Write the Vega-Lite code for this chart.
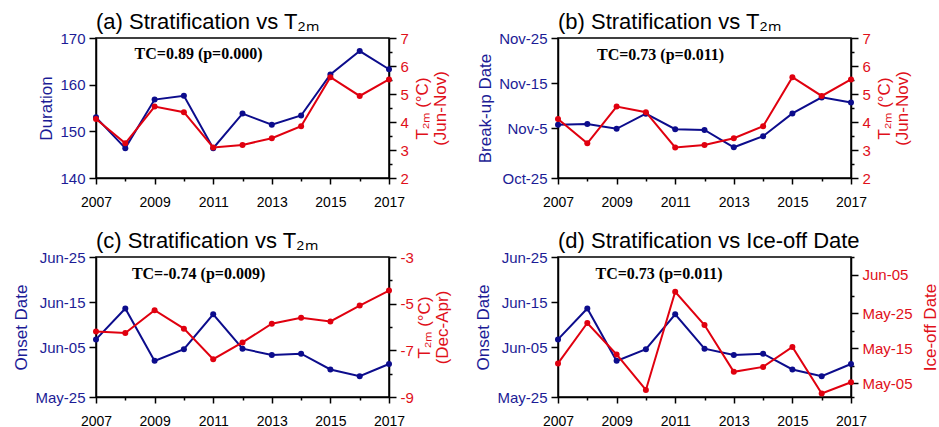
{
  "$schema": "https://vega.github.io/schema/vega-lite/v6.json",
  "background": "white",
  "padding": {"left": 12, "top": 10, "right": 5, "bottom": 5},
  "datasets": {
    "d": [
      {"year": 2007, "duration": 153.0, "t2m_jn": 4.11, "breakup": 309.8, "onset": 157.75, "t2m_da": -6.19, "iceoff": 130.6},
      {"year": 2008, "duration": 146.4, "t2m_jn": 3.24, "breakup": 309.97, "onset": 164.6, "t2m_da": -6.26, "iceoff": 142.15},
      {"year": 2009, "duration": 156.8, "t2m_jn": 4.55, "breakup": 308.9, "onset": 153.0, "t2m_da": -5.28, "iceoff": 133.15},
      {"year": 2010, "duration": 157.6, "t2m_jn": 4.35, "breakup": 312.25, "onset": 155.6, "t2m_da": -6.07, "iceoff": 123.0},
      {"year": 2011, "duration": 146.4, "t2m_jn": 3.09, "breakup": 308.8, "onset": 163.3, "t2m_da": -7.38, "iceoff": 151.05},
      {"year": 2012, "duration": 153.8, "t2m_jn": 3.18, "breakup": 308.65, "onset": 155.7, "t2m_da": -6.66, "iceoff": 141.57},
      {"year": 2013, "duration": 151.4, "t2m_jn": 3.42, "breakup": 304.8, "onset": 154.3, "t2m_da": -5.86, "iceoff": 128.2},
      {"year": 2014, "duration": 153.4, "t2m_jn": 3.85, "breakup": 307.25, "onset": 154.6, "t2m_da": -5.6, "iceoff": 129.6},
      {"year": 2015, "duration": 162.2, "t2m_jn": 5.6, "breakup": 312.3, "onset": 151.1, "t2m_da": -5.76, "iceoff": 135.3},
      {"year": 2016, "duration": 167.2, "t2m_jn": 4.93, "breakup": 315.85, "onset": 149.6, "t2m_da": -5.08, "iceoff": 122.0},
      {"year": 2017, "duration": 163.3, "t2m_jn": 5.52, "breakup": 314.7, "onset": 152.3, "t2m_da": -4.44, "iceoff": 125.2}
    ]
  },
  "columns": 2,
  "spacing": {"row": 79, "column": 169},
  "bounds": "flush",
  "concat": [
    {
      "width": 293, "height": 140,
      "title": {"text": "(a) Stratification vs T₂ₘ"},
      "data": {"name": "d"},
      "encoding": {"x": {"field": "year", "type": "quantitative", "scale": {"domain": [2007, 2017], "nice": false},
        "axis": {"values": [2007,2008,2009,2010,2011,2012,2013,2014,2015,2016,2017], "labelExpr": "datum.value % 2 === 1 ? '' + datum.value : ''", "tickSize": {"condition": {"test": "datum.value % 2 === 1", "value": 6}, "value": 3}, "title": null}}},
      "layer": [
        {"layer": [
          {"mark": {"type": "line", "color": "#0c0c8c", "strokeWidth": 2, "point": {"filled": true, "size": 36, "color": "#0c0c8c"}},
           "encoding": {"y": {"field": "duration", "type": "quantitative", "scale": {"domain": [140, 170], "nice": false, "zero": false},
             "axis": {"orient": "left", "values": [140,145,150,155,160,165,170], "labelExpr": "datum.value % 10 === 0 ? '' + datum.value : ''", "tickSize": {"condition": {"test": "datum.value % 10 === 0", "value": 7}, "value": 3}, "title": "Duration", "labelColor": "#1c1c96", "titleColor": "#1c1c96"}}}},
          {"data": {"values": [{"label": "TC=0.89 (p=0.000)", "tx": 2010.5, "ty": 166.6}]},
           "mark": {"type": "text", "font": "Liberation Serif", "fontWeight": "bold", "fontSize": 16, "color": "black"},
           "encoding": {"x": {"field": "tx", "type": "quantitative"}, "y": {"field": "ty", "type": "quantitative"}, "text": {"field": "label", "type": "nominal"}}}
        ]},
        {"mark": {"type": "line", "color": "#e0000f", "strokeWidth": 2, "point": {"filled": true, "size": 36, "color": "#e0000f"}},
         "encoding": {"y": {"field": "t2m_jn", "type": "quantitative", "scale": {"domain": [2, 7], "nice": false, "zero": false},
           "axis": {"orient": "right", "values": [2,2.5,3,3.5,4,4.5,5,5.5,6,6.5,7], "labelExpr": "datum.value % 1 === 0 ? '' + datum.value : ''", "tickSize": {"condition": {"test": "datum.value % 1 === 0", "value": 7}, "value": 3}, "title": ["T₂ₘ (°C)", "(Jun-Nov)"], "titleAngle": 270, "titleBaseline": "top", "titlePadding": -12, "labelColor": "#e0101a", "titleColor": "#e0101a"}}}}
      ],
      "resolve": {"scale": {"y": "independent"}}
    },
    {
      "width": 293, "height": 140,
      "title": {"text": "(b) Stratification vs T₂ₘ"},
      "data": {"name": "d"},
      "encoding": {"x": {"field": "year", "type": "quantitative", "scale": {"domain": [2007, 2017], "nice": false},
        "axis": {"values": [2007,2008,2009,2010,2011,2012,2013,2014,2015,2016,2017], "labelExpr": "datum.value % 2 === 1 ? '' + datum.value : ''", "tickSize": {"condition": {"test": "datum.value % 2 === 1", "value": 6}, "value": 3}, "title": null}}},
      "layer": [
        {"layer": [
          {"mark": {"type": "line", "color": "#0c0c8c", "strokeWidth": 2, "point": {"filled": true, "size": 36, "color": "#0c0c8c"}},
           "encoding": {"y": {"field": "breakup", "type": "quantitative", "scale": {"domain": [298, 329], "nice": false, "zero": false},
             "axis": {"orient": "left", "values": [298,303,309,314,319,324,329], "labelExpr": "(datum.value === 298 || datum.value === 309 || datum.value === 319 || datum.value === 329) ? timeFormat(datetime(2001, 0, datum.value), '%b-%-d') : ''", "tickSize": {"condition": {"test": "datum.value === 298 || datum.value === 309 || datum.value === 319 || datum.value === 329", "value": 7}, "value": 3}, "title": "Break-up Date", "labelColor": "#1c1c96", "titleColor": "#1c1c96"}}}},
          {"data": {"values": [{"label": "TC=0.73 (p=0.011)", "tx": 2010.5, "ty": 325.3}]},
           "mark": {"type": "text", "font": "Liberation Serif", "fontWeight": "bold", "fontSize": 16, "color": "black"},
           "encoding": {"x": {"field": "tx", "type": "quantitative"}, "y": {"field": "ty", "type": "quantitative"}, "text": {"field": "label", "type": "nominal"}}}
        ]},
        {"mark": {"type": "line", "color": "#e0000f", "strokeWidth": 2, "point": {"filled": true, "size": 36, "color": "#e0000f"}},
         "encoding": {"y": {"field": "t2m_jn", "type": "quantitative", "scale": {"domain": [2, 7], "nice": false, "zero": false},
           "axis": {"orient": "right", "values": [2,2.5,3,3.5,4,4.5,5,5.5,6,6.5,7], "labelExpr": "datum.value % 1 === 0 ? '' + datum.value : ''", "tickSize": {"condition": {"test": "datum.value % 1 === 0", "value": 7}, "value": 3}, "title": ["T₂ₘ (°C)", "(Jun-Nov)"], "titleAngle": 270, "titleBaseline": "top", "titlePadding": -12, "labelColor": "#e0101a", "titleColor": "#e0101a"}}}}
      ],
      "resolve": {"scale": {"y": "independent"}}
    },
    {
      "width": 293, "height": 140,
      "title": {"text": "(c) Stratification vs T₂ₘ"},
      "data": {"name": "d"},
      "encoding": {"x": {"field": "year", "type": "quantitative", "scale": {"domain": [2007, 2017], "nice": false},
        "axis": {"values": [2007,2008,2009,2010,2011,2012,2013,2014,2015,2016,2017], "labelExpr": "datum.value % 2 === 1 ? '' + datum.value : ''", "tickSize": {"condition": {"test": "datum.value % 2 === 1", "value": 6}, "value": 3}, "title": null}}},
      "layer": [
        {"layer": [
          {"mark": {"type": "line", "color": "#0c0c8c", "strokeWidth": 2, "point": {"filled": true, "size": 36, "color": "#0c0c8c"}},
           "encoding": {"y": {"field": "onset", "type": "quantitative", "scale": {"domain": [145, 176], "nice": false, "zero": false},
             "axis": {"orient": "left", "values": [145,150,156,161,166,171,176], "labelExpr": "(datum.value === 145 || datum.value === 156 || datum.value === 166 || datum.value === 176) ? timeFormat(datetime(2001, 0, datum.value), '%b-%d') : ''", "tickSize": {"condition": {"test": "datum.value === 145 || datum.value === 156 || datum.value === 166 || datum.value === 176", "value": 7}, "value": 3}, "title": "Onset Date", "labelColor": "#1c1c96", "titleColor": "#1c1c96"}}}},
          {"data": {"values": [{"label": "TC=-0.74 (p=0.009)", "tx": 2010.5, "ty": 172.15}]},
           "mark": {"type": "text", "font": "Liberation Serif", "fontWeight": "bold", "fontSize": 16, "color": "black"},
           "encoding": {"x": {"field": "tx", "type": "quantitative"}, "y": {"field": "ty", "type": "quantitative"}, "text": {"field": "label", "type": "nominal"}}}
        ]},
        {"mark": {"type": "line", "color": "#e0000f", "strokeWidth": 2, "point": {"filled": true, "size": 36, "color": "#e0000f"}},
         "encoding": {"y": {"field": "t2m_da", "type": "quantitative", "scale": {"domain": [-9, -3], "nice": false, "zero": false},
           "axis": {"orient": "right", "values": [-9,-8,-7,-6,-5,-4,-3], "labelExpr": "abs(datum.value) % 2 === 1 ? '' + datum.value : ''", "tickSize": {"condition": {"test": "abs(datum.value) % 2 === 1", "value": 7}, "value": 3}, "title": ["T₂ₘ (°C)", "(Dec-Apr)"], "titleAngle": 270, "titleBaseline": "top", "titlePadding": -15, "labelColor": "#e0101a", "titleColor": "#e0101a"}}}}
      ],
      "resolve": {"scale": {"y": "independent"}}
    },
    {
      "width": 293, "height": 140,
      "title": {"text": "(d) Stratification vs Ice-off Date"},
      "data": {"name": "d"},
      "encoding": {"x": {"field": "year", "type": "quantitative", "scale": {"domain": [2007, 2017], "nice": false},
        "axis": {"values": [2007,2008,2009,2010,2011,2012,2013,2014,2015,2016,2017], "labelExpr": "datum.value % 2 === 1 ? '' + datum.value : ''", "tickSize": {"condition": {"test": "datum.value % 2 === 1", "value": 6}, "value": 3}, "title": null}}},
      "layer": [
        {"layer": [
          {"mark": {"type": "line", "color": "#0c0c8c", "strokeWidth": 2, "point": {"filled": true, "size": 36, "color": "#0c0c8c"}},
           "encoding": {"y": {"field": "onset", "type": "quantitative", "scale": {"domain": [145, 176], "nice": false, "zero": false},
             "axis": {"orient": "left", "values": [145,150,156,161,166,171,176], "labelExpr": "(datum.value === 145 || datum.value === 156 || datum.value === 166 || datum.value === 176) ? timeFormat(datetime(2001, 0, datum.value), '%b-%d') : ''", "tickSize": {"condition": {"test": "datum.value === 145 || datum.value === 156 || datum.value === 166 || datum.value === 176", "value": 7}, "value": 3}, "title": "Onset Date", "labelColor": "#1c1c96", "titleColor": "#1c1c96"}}}},
          {"data": {"values": [{"label": "TC=0.73 (p=0.011)", "tx": 2010.45, "ty": 172.3}]},
           "mark": {"type": "text", "font": "Liberation Serif", "fontWeight": "bold", "fontSize": 16, "color": "black"},
           "encoding": {"x": {"field": "tx", "type": "quantitative"}, "y": {"field": "ty", "type": "quantitative"}, "text": {"field": "label", "type": "nominal"}}}
        ]},
        {"mark": {"type": "line", "color": "#e0000f", "strokeWidth": 2, "point": {"filled": true, "size": 36, "color": "#e0000f"}},
         "encoding": {"y": {"field": "iceoff", "type": "quantitative", "scale": {"domain": [121, 161], "nice": false, "zero": false},
           "axis": {"orient": "right", "values": [121,125,130,135,140,145,150,156,161], "labelExpr": "(datum.value === 125 || datum.value === 135 || datum.value === 145 || datum.value === 156) ? timeFormat(datetime(2001, 0, datum.value), '%b-%d') : ''", "tickSize": {"condition": {"test": "datum.value === 125 || datum.value === 135 || datum.value === 145 || datum.value === 156", "value": 7}, "value": 3}, "title": "Ice-off Date", "titleAngle": 270, "titleBaseline": "top", "titlePadding": 10, "labelColor": "#e0101a", "titleColor": "#e0101a"}}}}
      ],
      "resolve": {"scale": {"y": "independent"}}
    }
  ],
  "config": {
    "view": {"stroke": "black", "strokeWidth": 1.5},
    "axis": {"domainColor": "black", "domainWidth": 1.5, "tickColor": "black", "tickWidth": 1.5, "grid": false, "labelFont": "Liberation Sans", "labelFontSize": 15, "titleFont": "Liberation Sans", "titleFontSize": 17, "titleFontWeight": "normal", "labelPadding": 4, "titlePadding": 4, "labelFlush": false, "labelOverlap": false, "titleLineHeight": 18},
    "axisX": {"labelColor": "black", "labelFontSize": 14, "labelPadding": 11},
    "title": {"font": "Liberation Sans", "fontSize": 22, "fontWeight": "normal", "anchor": "start", "frame": "group", "color": "black", "offset": -3}
  }
}
